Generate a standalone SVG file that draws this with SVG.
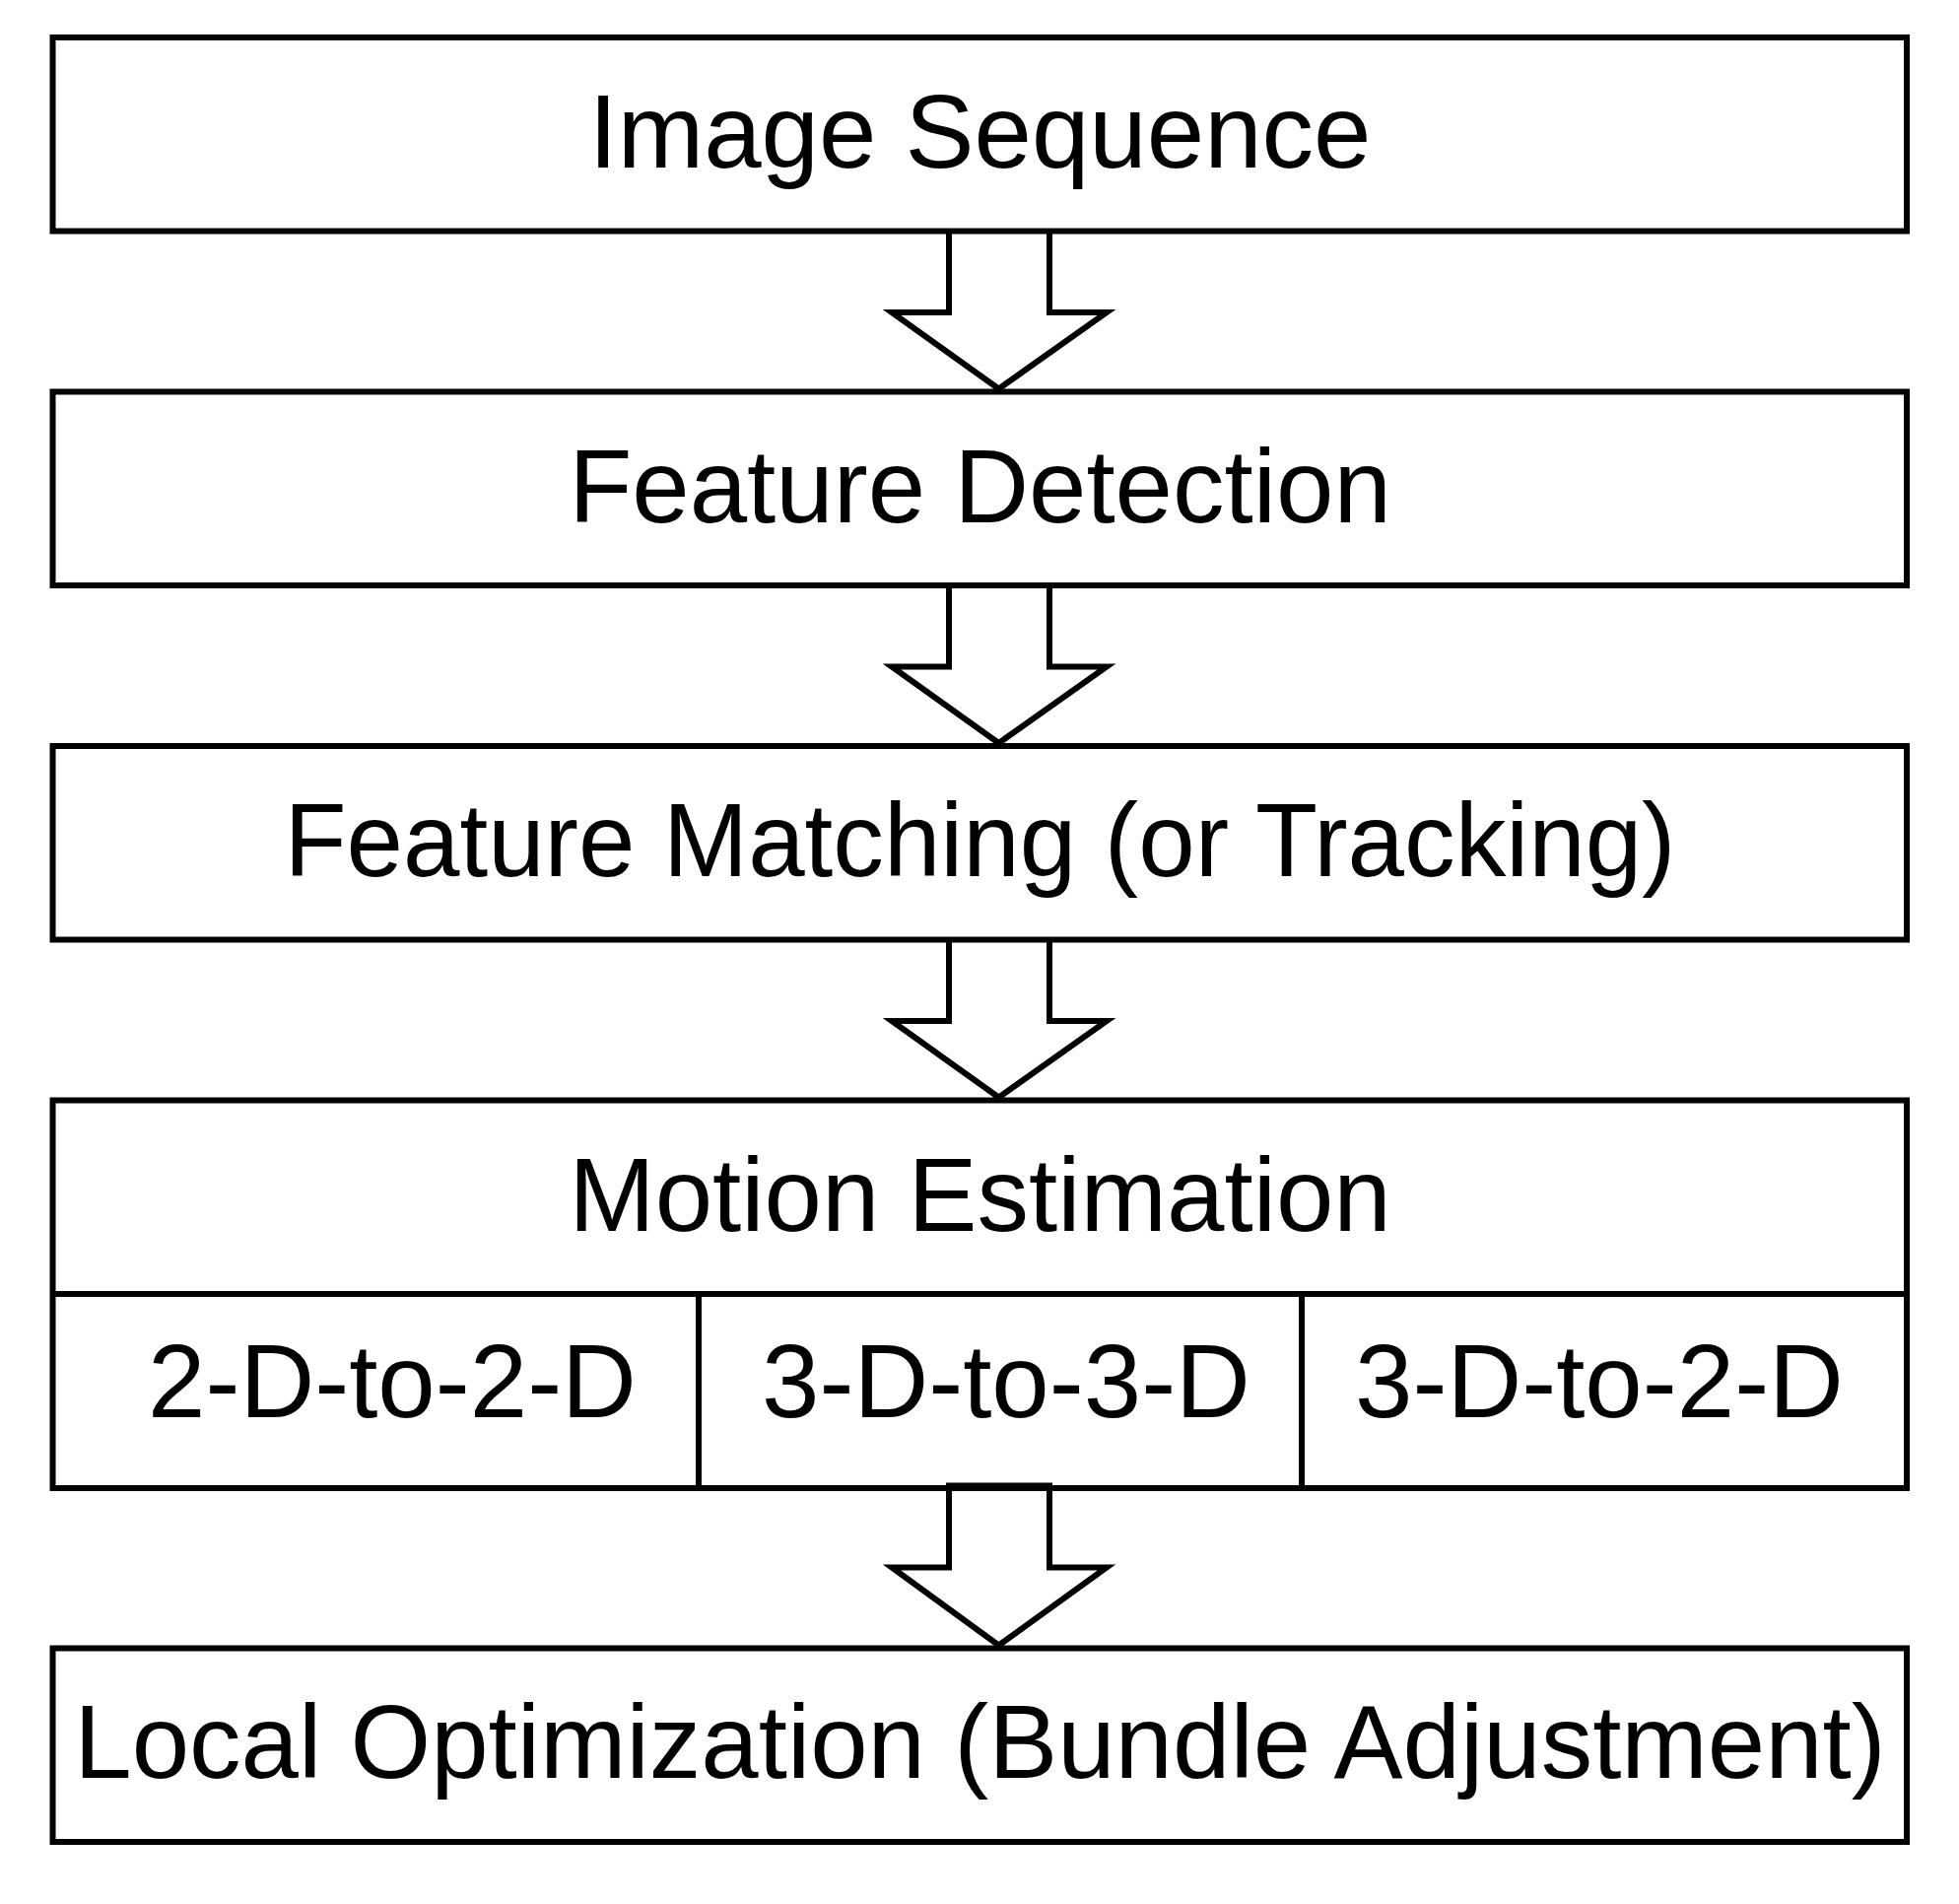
<svg xmlns="http://www.w3.org/2000/svg" width="1988" height="1932" viewBox="0 0 1988 1932">
<style>
.box{fill:none;stroke:#000;stroke-width:6;stroke-linejoin:miter}
.ln{fill:none;stroke:#000;stroke-width:6}
.arr{fill:#fff;stroke:#000;stroke-width:6;stroke-linejoin:miter;stroke-miterlimit:10}
.t{font-family:"Liberation Sans",Arial,sans-serif;font-size:105px;fill:#000;text-anchor:middle}
</style>
<rect width="1988" height="1932" fill="#fff"/>
<g id="connectors">
<polyline class="arr" points="963,234.5 963,317 905,317 1013.5,394.5 1123,317 1065,317 1065,234.5"/>
<polyline class="arr" points="963,594 963,676.5 905,676.5 1013.5,754 1123,676.5 1065,676.5 1065,594"/>
<polyline class="arr" points="963,953.5 963,1036 905,1036 1013.5,1113.5 1123,1036 1065,1036 1065,953.5"/>
<polygon class="arr" points="963,1507.5 963,1590.5 905,1590.5 1013.5,1669.5 1123,1590.5 1065,1590.5 1065,1507.5"/>
</g>
<g id="n1"><rect class="box" x="53.5" y="38" width="1881.5" height="196.5"/><text class="t" x="994.5" y="170">Image Sequence</text></g>
<g id="n2"><rect class="box" x="53.5" y="397.5" width="1881.5" height="196.5"/><text class="t" x="994.5" y="529.5">Feature Detection</text></g>
<g id="n3"><rect class="box" x="53.5" y="757" width="1881.5" height="196.5"/><text class="t" x="994.5" y="889" textLength="1412" lengthAdjust="spacingAndGlyphs">Feature Matching (or Tracking)</text></g>
<g id="n4"><rect class="box" x="53.5" y="1116.5" width="1881.5" height="393.5"/><line class="ln" x1="53.5" y1="1313" x2="1935" y2="1313"/><text class="t" x="994.5" y="1249">Motion Estimation</text>
<g id="n4a"><line class="ln" x1="709" y1="1313" x2="709" y2="1510"/><text class="t" x="398" y="1438">2-D-to-2-D</text></g>
<g id="n4b"><line class="ln" x1="1321" y1="1313" x2="1321" y2="1510"/><text class="t" x="1021" y="1438">3-D-to-3-D</text></g>
<g id="n4c"><text class="t" x="1623" y="1438">3-D-to-2-D</text></g></g>
<g id="n5"><rect class="box" x="53.5" y="1672.5" width="1881.5" height="196.5"/><text class="t" x="994.5" y="1804">Local Optimization (Bundle Adjustment)</text></g>
</svg>
